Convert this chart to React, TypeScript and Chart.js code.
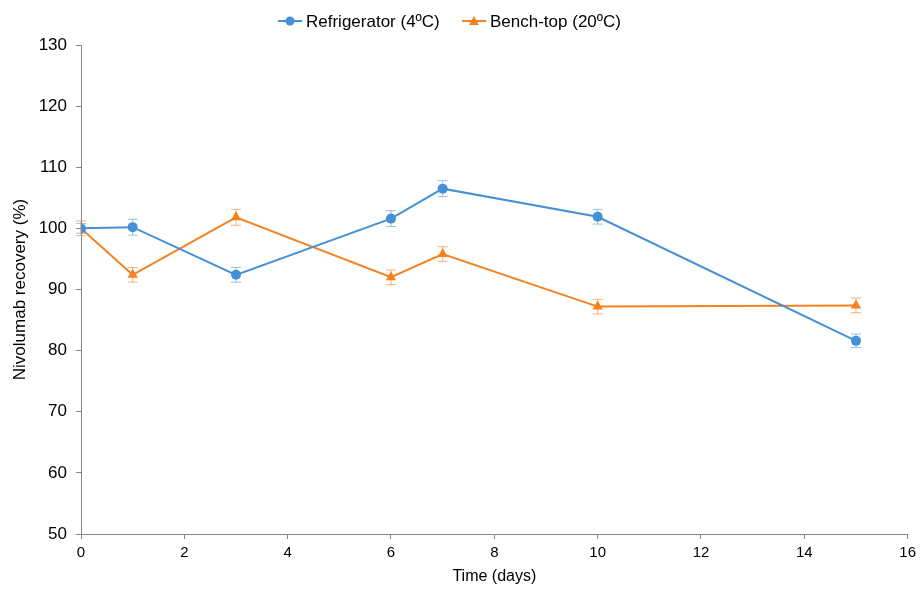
import React, { useEffect, useRef } from "react";
import { Chart, registerables } from "chart.js";

Chart.register(...registerables);

const days = [0, 1, 3, 6, 7, 10, 15];
const fridgeValues = [100.0, 100.2, 92.4, 101.6, 106.5, 101.9, 81.6];
const fridgeErrors = [0.8, 1.3, 1.2, 1.3, 1.3, 1.2, 1.1];
const benchValues = [100.0, 92.4, 101.8, 92.0, 95.8, 87.2, 87.4];
const benchErrors = [1.2, 1.2, 1.3, 1.2, 1.2, 1.2, 1.2];
const seriesNames = ["Refrigerator (4ºC)", "Bench-top (20ºC)"];
const xTitle = "Time (days)";
const yTitle = "Nivolumab recovery (%)";

const BLUE = "#4590D6";
const ORANGE = "#F58220";
const AXIS = "#868686";
const FONT = "'Liberation Sans', Arial, sans-serif";

const errorBarPlugin = {
  id: "errorBars",
  afterDatasetsDraw(chart: any) {
    const ctx = chart.ctx;
    const xs = chart.scales.x;
    const ys = chart.scales.y;
    chart.data.datasets.forEach((ds: any) => {
      const errs: number[] = ds.errors || [];
      ctx.save();
      ctx.strokeStyle = ds.errorColor;
      ctx.lineWidth = 1;
      ds.data.forEach((p: any, i: number) => {
        const e = errs[i];
        if (!e) return;
        const px = xs.getPixelForValue(p.x);
        const top = ys.getPixelForValue(p.y + e);
        const bot = ys.getPixelForValue(p.y - e);
        ctx.beginPath();
        ctx.moveTo(px, top);
        ctx.lineTo(px, bot);
        ctx.moveTo(px - 5, top);
        ctx.lineTo(px + 5, top);
        ctx.moveTo(px - 5, bot);
        ctx.lineTo(px + 5, bot);
        ctx.stroke();
      });
      ctx.restore();
    });
  },
};

const legendPlugin = {
  id: "customLegend",
  afterDraw(chart: any) {
    const ctx = chart.ctx;
    ctx.save();
    ctx.font = `17px ${FONT}`;
    ctx.textBaseline = "middle";
    const y = 21;
    const items = [
      { x: 278, color: BLUE, name: seriesNames[0], shape: "circle" },
      { x: 462, color: ORANGE, name: seriesNames[1], shape: "triangle" },
    ];
    items.forEach((it) => {
      ctx.strokeStyle = it.color;
      ctx.fillStyle = it.color;
      ctx.lineWidth = 2;
      ctx.beginPath();
      ctx.moveTo(it.x, y);
      ctx.lineTo(it.x + 24, y);
      ctx.stroke();
      ctx.beginPath();
      if (it.shape === "circle") {
        ctx.arc(it.x + 12, y, 4.5, 0, Math.PI * 2);
      } else {
        ctx.moveTo(it.x + 12, y - 5);
        ctx.lineTo(it.x + 17, y + 4);
        ctx.lineTo(it.x + 7, y + 4);
        ctx.closePath();
      }
      ctx.fill();
      ctx.fillStyle = "#000";
      ctx.fillText(it.name, it.x + 28, y + 1);
    });
    ctx.restore();
  },
};

export default function App() {
  const ref = useRef<HTMLCanvasElement | null>(null);
  useEffect(() => {
    document.body.style.margin = "0";
    const canvas = ref.current;
    if (!canvas) return;
    const chart = new Chart(canvas, {
      type: "line",
      data: {
        datasets: [
          {
            label: seriesNames[0],
            data: days.map((d, i) => ({ x: d, y: fridgeValues[i] })),
            borderColor: BLUE,
            backgroundColor: BLUE,
            borderWidth: 2,
            pointStyle: "circle",
            pointRadius: 5,
            pointBorderWidth: 0,
            errors: fridgeErrors,
            errorColor: "rgba(69,144,214,0.55)",
          } as any,
          {
            label: seriesNames[1],
            data: days.map((d, i) => ({ x: d, y: benchValues[i] })),
            borderColor: ORANGE,
            backgroundColor: ORANGE,
            borderWidth: 2,
            pointStyle: "triangle",
            pointRadius: 6,
            pointBorderWidth: 0,
            errors: benchErrors,
            errorColor: "rgba(245,130,32,0.6)",
          } as any,
        ],
      },
      options: {
        animation: false,
        responsive: false,
        maintainAspectRatio: false,
        layout: { padding: { top: 45, right: 13, left: 0, bottom: 0 } },
        plugins: {
          legend: { display: false },
          tooltip: { enabled: false },
        },
        scales: {
          x: {
            type: "linear",
            min: 0,
            max: 16,
            ticks: {
              stepSize: 2,
              color: "#000",
              font: { family: FONT, size: 15 },
              padding: 5,
            },
            grid: {
              drawOnChartArea: false,
              color: AXIS,
              tickLength: 5,
            },
            border: { color: AXIS, width: 1 },
            title: {
              display: true,
              text: xTitle,
              color: "#000",
              font: { family: FONT, size: 16 },
              padding: { top: 3 },
            },
            afterFit(scale: any) {
              scale.height = 56;
            },
          },
          y: {
            type: "linear",
            min: 50,
            max: 130,
            ticks: {
              stepSize: 10,
              color: "#000",
              font: { family: FONT, size: 17 },
              padding: 9,
            },
            grid: {
              drawOnChartArea: false,
              color: AXIS,
              tickLength: 5,
            },
            border: { color: AXIS, width: 1 },
            title: {
              display: true,
              text: yTitle,
              color: "#000",
              font: { family: FONT, size: 17 },
              padding: { top: 10, bottom: 0 },
            },
            afterFit(scale: any) {
              scale.width = 81;
            },
          },
        },
      } as any,
      plugins: [errorBarPlugin, legendPlugin],
    });
    return () => chart.destroy();
  }, []);
  return (
    <div style={{ width: 921, height: 590 }}>
      <canvas ref={ref} width={921} height={590} style={{ display: "block" }} />
    </div>
  );
}
